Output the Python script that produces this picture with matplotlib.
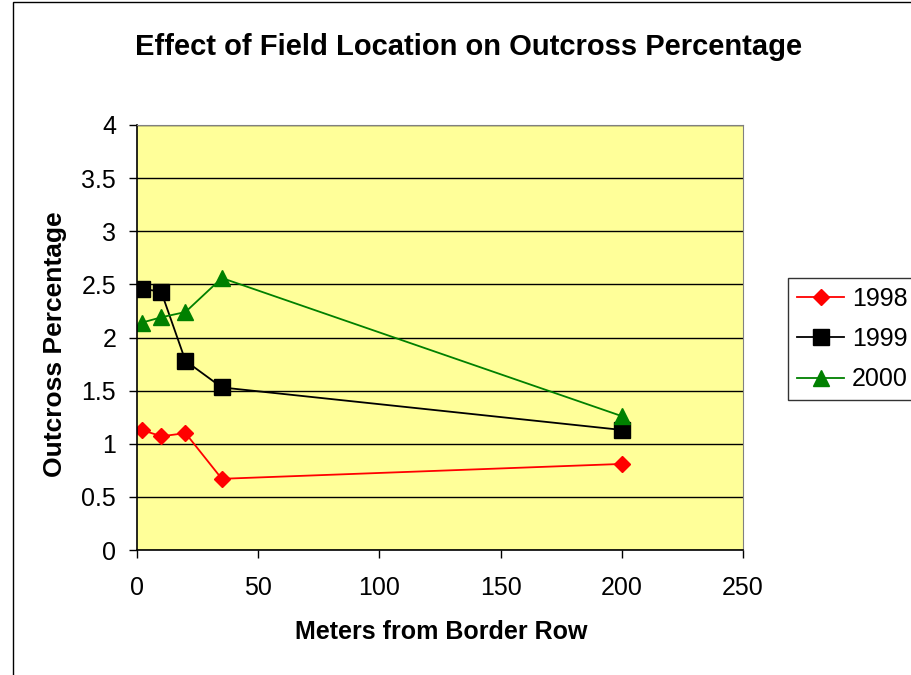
import matplotlib.pyplot as plt
from matplotlib.patches import Rectangle

plt.rcParams['font.family'] = ['Liberation Sans', 'DejaVu Sans']

# data
meters = [2, 10, 20, 35, 200]
y1998 = [1.13, 1.07, 1.10, 0.67, 0.81]
y1999 = [2.46, 2.43, 1.78, 1.53, 1.13]
y2000 = [2.14, 2.19, 2.24, 2.56, 1.26]
xticks = [0, 50, 100, 150, 200, 250]
yticks = [0, 0.5, 1, 1.5, 2, 2.5, 3, 3.5, 4]

fig = plt.figure(figsize=(9.11, 6.75), dpi=100)
ax = fig.add_axes([137 / 911, 125 / 675, 606 / 911, 425 / 675])
ax.set_facecolor('#FFFF99')

ax.plot(meters, y1998, color='#FF0000', marker='D', markersize=8, lw=1.3, label='1998')
ax.plot(meters, y1999, color='black', marker='s', markersize=12, lw=1.3, label='1999')
ax.plot(meters, y2000, color='#008000', marker='^', markersize=12, lw=1.3, label='2000')

ax.set_xlim(0, 250)
ax.set_ylim(0, 4)
ax.set_xticks(xticks)
ax.set_yticks(yticks)
ax.set_yticklabels([f'{t:g}' for t in yticks])
ax.grid(axis='y', color='black', lw=1)
ax.set_axisbelow(True)
ax.tick_params(labelsize=18, length=6, direction='out', width=1)
ax.tick_params(axis='x', pad=13)
ax.tick_params(axis='y', pad=9)
for s in ['top', 'right']:
    ax.spines[s].set_color('#808080')
for s in ['left', 'bottom']:
    ax.spines[s].set_linewidth(1.2)

ax.set_xlabel('Meters from Border Row', fontsize=18, fontweight='bold', va='center')
ax.xaxis.set_label_coords(0.502, -0.193)
ax.set_ylabel('Outcross Percentage', fontsize=19, fontweight='bold', va='center', ha='center')
ax.yaxis.set_label_coords(-0.135, 0.485)
fig.text(0.514, 0.930, 'Effect of Field Location on Outcross Percentage',
         ha='center', va='center', fontsize=21, fontweight='bold')

leg = ax.legend(loc='upper left', bbox_to_anchor=(788 / 911, 1 - 278 / 675), bbox_transform=fig.transFigure,
                fontsize=18, frameon=True, fancybox=False, edgecolor='black',
                handlelength=1.9, borderaxespad=0, borderpad=0.35, labelspacing=0.65, handletextpad=0.3)
leg.get_frame().set_linewidth(1)

fig.patches.append(Rectangle((13 / 911, -0.1), 1.2, 1.1 - 2 / 675, transform=fig.transFigure,
                             fill=False, edgecolor='black', lw=1))

fig.savefig('out.png', dpi=100)
